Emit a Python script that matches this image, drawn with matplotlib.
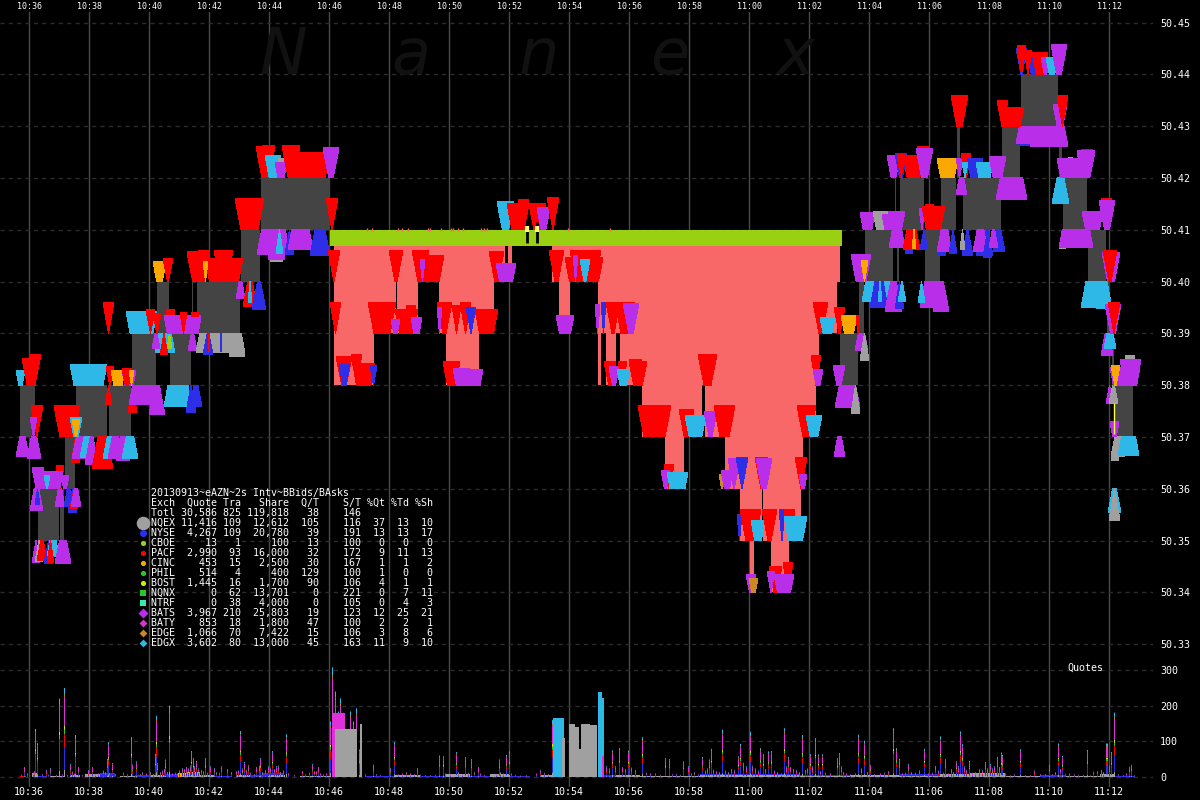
import numpy as np
import matplotlib
matplotlib.use("Agg")
import matplotlib.pyplot as plt

# x = number of 2s intervals since chart start (10:35:02), y = price
EXCH_COLOR = {
    "P": "#ff0000", "B": "#b92ee8", "X": "#2eb8e8", "N": "#2e2ee8", "C": "#f8a800",
    "Q": "#a0a0a0", "Y": "#99d011", "E": "#cc8822", "G": "#22cc22", "M": "#e030d8",
    "T": "#33eeaa", "L": "#ccee00",
}

time_ticks = list(range(29, 1110, 60))
time_labels = ["10:36", "10:38", "10:40", "10:42", "10:44", "10:46", "10:48", "10:50", "10:52", "10:54",
               "10:56", "10:58", "11:00", "11:02", "11:04", "11:06", "11:08", "11:10", "11:12"]
price_ticks = [50.33, 50.34, 50.35, 50.36, 50.37, 50.38, 50.39, 50.40, 50.41, 50.42, 50.43, 50.44, 50.45]
quote_ticks = [0, 100, 200, 300]

# NBBO spread (one cent wide), low side
band_x0 = [20, 38, 60, 65, 76, 109, 132, 157, 170, 192, 197, 241, 261, 840, 859, 865, 895, 897, 900, 925, 941,
           957, 963, 1002, 1021, 1059, 1063, 1088, 1107, 1112, 1115]
band_x1 = [35, 59, 64, 75, 107, 131, 156, 169, 191, 193, 240, 260, 330, 858, 864, 893, 896, 899, 924, 940, 956,
           960, 1001, 1020, 1058, 1062, 1087, 1106, 1110, 1114, 1133]
band_lo = [50.37, 50.35, 50.35, 50.36, 50.37, 50.37, 50.38, 50.39, 50.38, 50.39, 50.39, 50.40, 50.41, 50.38,
           50.39, 50.40, 50.41, 50.40, 50.41, 50.40, 50.41, 50.42, 50.41, 50.42, 50.43, 50.42, 50.41, 50.40,
           50.39, 50.38, 50.37]

# crossed / locked zone below the green bid line
pink_x0 = [334, 374, 396, 397, 418, 439, 446, 479, 494, 508, 552, 559, 570, 598, 601, 606, 616, 620, 642, 665, 684,
           702, 705, 722, 725, 740, 750, 754, 762, 763, 771, 789, 801, 803, 816, 819, 837]
pink_x1 = [374, 396, 397, 418, 439, 446, 479, 494, 505, 512, 559, 570, 598, 601, 606, 616, 620, 642, 665, 684, 702,
           705, 722, 725, 740, 750, 754, 762, 763, 771, 789, 801, 803, 816, 819, 837, 840]
pink_lo = [50.38, 50.39, 50.40, 50.39, 50.40, 50.39, 50.38, 50.39, 50.40, 50.40, 50.40, 50.39, 50.40, 50.38, 50.39,
           50.38, 50.39, 50.38, 50.37, 50.36, 50.37, 50.38, 50.37, 50.37, 50.36, 50.35, 50.34, 50.35, 50.36, 50.35,
           50.34, 50.35, 50.36, 50.37, 50.38, 50.39, 50.40]
bid_line = (330, 842, 50.4069, 50.41)
bid_line_ticks = [367, 372, 398, 402, 408, 428, 430, 441, 451, 453, 458, 463, 481, 484, 487, 568, 610]

# clusters of ask quotes: (x0, x1, height in cents, exchange)
ask_5044 = [(1016, 1027, .50, "N"), (1017, 1026, .55, "P"), (1027, 1040, .43, "N"), (1024, 1032, .45, "P"),
            (1032, 1048, .43, "P"), (1041, 1050, .33, "B"), (1046, 1058, .33, "X"), (1051, 1067, .57, "B")]
ask_5043 = [(951, 968, .59, "P"), (997, 1008, .50, "P"), (1000, 1024, .36, "P"), (1053, 1067, .42, "B"),
            (1057, 1068, .59, "P")]
ask_5042 = [(256, 275, .60, "P"), (262, 275, .62, "P"), (265, 281, .43, "X"), (278, 284, .38, "Q"),
            (275, 287, .30, "B"), (282, 300, .62, "P"), (290, 330, .50, "P"), (323, 339, .58, "B"),
            (887, 900, .43, "B"), (895, 907, .47, "N"), (897, 905, .45, "P"), (903, 924, .43, "P"),
            (917, 930, .60, "P"), (916, 933, .57, "B"), (937, 958, .38, "C"), (956, 963, .38, "B"),
            (961, 971, .47, "P"), (967, 983, .38, "N"), (962, 968, .30, "X"), (976, 993, .30, "X"),
            (989, 1006, .42, "B"), (1068, 1073, .40, "Q"), (1057, 1087, .38, "B"), (1081, 1093, .55, "P"),
            (1077, 1095, .52, "B")]
ask_5041 = [(235, 264, .60, "P"), (326, 338, .60, "P"),
            (497, 514, .54, "X"), (507, 529, .50, "P"), (518, 529, .58, "P"), (529, 546, .50, "P"),
            (537, 550, .42, "B"), (547, 559, .62, "P"),
            (860, 875, .33, "B"), (873, 889, .36, "Q"), (882, 893, .30, "B"), (888, 905, .36, "B"),
            (919, 925, .40, "B"), (922, 945, .45, "P"), (925, 934, .48, "P"), (1082, 1103, .36, "B"),
            (1101, 1112, .60, "P"), (1099, 1115, .56, "B")]
ask_5040 = [(153, 166, .38, "C"), (163, 173, .45, "P"), (187, 210, .57, "P"), (198, 210, .60, "P"),
            (205, 243, .45, "P"), (214, 233, .60, "P"), (203, 208, .38, "C"), (328, 340, .60, "P"),
            (389, 403, .60, "P"), (412, 429, .60, "P"), (420, 444, .50, "P"), (420, 425, .42, "B"),
            (489, 504, .58, "P"), (496, 516, .35, "B"), (549, 564, .60, "P"), (565, 603, .46, "P"),
            (570, 601, .60, "P"), (573, 578, .50, "B"), (580, 590, .42, "X"),
            (851, 871, .52, "B"), (861, 868, .40, "C"), (1102, 1120, .56, "B"), (1103, 1117, .60, "P")]
ask_5039 = [(103, 114, .60, "P"), (126, 157, .42, "X"), (146, 155, .45, "P"), (153, 161, .38, "P"),
            (166, 175, .45, "P"), (164, 201, .34, "B"), (180, 187, .40, "P"), (191, 199, .40, "P"),
            (190, 201, .30, "B"), (330, 341, .60, "P"), (368, 396, .60, "P"), (395, 418, .46, "P"),
            (406, 416, .54, "P"), (391, 400, .27, "B"), (411, 422, .30, "B"), (437, 452, .60, "P"),
            (437, 442, .50, "B"), (452, 461, .54, "P"), (460, 471, .60, "P"), (466, 476, .50, "N"),
            (475, 498, .46, "P"), (556, 574, .35, "B"), (595, 600, .55, "B"), (601, 606, .60, "N"),
            (606, 620, .60, "P"), (615, 635, .60, "P"), (623, 639, .58, "B"), (813, 828, .60, "P"),
            (820, 835, .31, "X"), (834, 845, .50, "P"), (841, 857, .35, "C"), (856, 860, .35, "P"),
            (1105, 1121, .56, "B"), (1108, 1120, .60, "P")]
ask_5038 = [(16, 25, .29, "X"), (22, 39, .52, "P"), (29, 41, .60, "P"), (70, 107, .40, "X"), (106, 114, .36, "P"),
            (111, 125, .29, "C"), (122, 136, .29, "B"), (122, 132, .33, "P"), (129, 134, .29, "C"),
            (336, 352, .56, "P"), (339, 350, .40, "N"), (351, 362, .60, "P"), (353, 375, .41, "P"),
            (370, 377, .37, "N"), (443, 460, .45, "P"), (453, 470, .33, "B"), (463, 483, .30, "B"),
            (604, 616, .46, "P"), (609, 619, .35, "B"), (618, 627, .46, "P"), (617, 630, .31, "X"),
            (629, 647, .46, "P"), (629, 642, .50, "P"), (698, 717, .60, "P"), (811, 821, .58, "P"),
            (813, 823, .31, "B"), (833, 845, .38, "B"), (1110, 1140, .34, "B"), (1111, 1120, .38, "C"),
            (1125, 1135, .58, "Q"), (1120, 1141, .50, "B")]
ask_5037 = [(31, 43, .60, "P"), (30, 37, .38, "B"), (54, 80, .60, "P"), (70, 82, .38, "X"), (72, 80, .34, "C"),
            (638, 671, .60, "P"), (679, 694, .53, "P"), (685, 706, .42, "X"), (704, 717, .50, "B"),
            (714, 735, .60, "P"), (797, 816, .60, "P"), (806, 822, .42, "X"), (1110, 1119, .29, "B")]
ask_5036 = [(56, 64, .45, "P"), (32, 44, .41, "B"), (36, 63, .33, "B"), (44, 50, .26, "X"), (61, 69, .26, "B"),
            (664, 674, .46, "P"), (661, 670, .35, "B"), (667, 688, .31, "X"), (719, 725, .27, "E"),
            (721, 733, .35, "B"), (728, 740, .58, "B"), (736, 748, .60, "N"), (755, 768, .60, "P"),
            (756, 772, .58, "B"), (795, 807, .60, "P"), (799, 807, .27, "B")]
ask_5035 = [(737, 742, .50, "N"), (740, 761, .60, "P"), (751, 765, .38, "X"), (762, 777, .60, "P"),
            (779, 785, .60, "N"), (784, 795, .60, "P"), (784, 807, .46, "X")]
ask_5034 = [(746, 756, .35, "B"), (749, 758, .27, "E"), (769, 782, .50, "P"), (783, 793, .58, "P"),
            (767, 775, .40, "B"), (774, 794, .35, "B")]
ask_levels = [(50.44, ask_5044), (50.43, ask_5043), (50.42, ask_5042), (50.41, ask_5041), (50.40, ask_5040),
              (50.39, ask_5039), (50.38, ask_5038), (50.37, ask_5037), (50.36, ask_5036), (50.35, ask_5035),
              (50.34, ask_5034)]

# clusters of bid quotes, same layout, hanging below the level
bid_5043 = [(1017, 1068, .38, "N"), (1016, 1064, .34, "B"), (1030, 1068, .40, "B")]
bid_5042 = [(956, 967, .33, "B"), (996, 1027, .42, "B"), (1052, 1069, .50, "X")]
bid_5041 = [(270, 283, .61, "Q"), (268, 285, .58, "B"), (257, 290, .47, "B"), (276, 283, .45, "X"),
            (285, 294, .47, "N"), (288, 313, .38, "B"), (310, 330, .50, "N"), (889, 905, .34, "B"),
            (905, 913, .45, "N"), (903, 920, .38, "P"), (912, 916, .36, "C"), (920, 928, .38, "N"),
            (937, 946, .50, "N"), (937, 952, .42, "B"), (949, 957, .45, "N"), (962, 973, .50, "N"),
            (960, 965, .38, "Q"), (976, 993, .50, "N"), (973, 988, .42, "B"), (983, 992, .54, "N"),
            (993, 1005, .42, "N"), (989, 998, .34, "B"), (1059, 1066, .36, "Q"), (1059, 1093, .34, "B")]
bid_5040 = [(236, 245, .32, "B"), (243, 257, .48, "P"), (252, 266, .55, "N"), (248, 252, .40, "X"),
            (862, 893, .38, "X"), (870, 888, .50, "N"), (878, 882, .38, "X"), (885, 902, .57, "B"),
            (895, 904, .53, "N"), (898, 906, .38, "X"), (920, 943, .50, "B"), (933, 949, .57, "B"),
            (918, 925, .40, "X"), (1096, 1112, .53, "X"), (1081, 1112, .50, "X")]
bid_5039 = [(155, 175, .38, "X"), (152, 160, .30, "B"), (160, 168, .41, "P"), (167, 172, .30, "Y"),
            (188, 197, .33, "B"), (196, 245, .38, "Q"), (229, 245, .45, "Q"), (203, 213, .41, "N"),
            (208, 210, .36, "P"), (220, 222, .36, "N"), (855, 868, .33, "B"), (860, 869, .52, "Q"),
            (1101, 1113, .42, "B"), (1104, 1116, .30, "X")]
bid_5038 = [(105, 112, .38, "P"), (128, 137, .53, "P"), (129, 162, .38, "B"), (149, 165, .57, "B"),
            (164, 192, .41, "X"), (186, 196, .53, "N"), (190, 202, .41, "N"), (835, 860, .44, "B"),
            (851, 860, .55, "Q"), (1106, 1113, .36, "B"), (1109, 1118, .36, "Q")]
bid_5037 = [(16, 29, .38, "B"), (27, 41, .42, "B"), (71, 80, .50, "P"), (72, 90, .42, "B"), (80, 97, .40, "X"),
            (85, 98, .53, "B"), (92, 113, .61, "P"), (103, 117, .42, "X"), (108, 123, .42, "B"),
            (116, 130, .46, "B"), (122, 138, .42, "X"), (834, 845, .37, "B"), (1111, 1119, .46, "Q"),
            (1111, 1125, .38, "Q"), (1118, 1139, .35, "X")]
bid_5036 = [(30, 43, .42, "B"), (35, 40, .30, "N"), (55, 65, .34, "B"), (64, 73, .34, "N"), (68, 77, .45, "N"),
            (70, 78, .38, "P"), (71, 81, .34, "B"), (1108, 1121, .46, "X"), (1109, 1120, .61, "Q")]
bid_5035 = [(32, 40, .42, "B"), (35, 43, .40, "Q"), (37, 47, .38, "P"), (44, 53, .45, "N"), (47, 59, .30, "X"),
            (47, 54, .42, "P"), (55, 71, .45, "B")]
bid_levels = [(50.43, bid_5043), (50.42, bid_5042), (50.41, bid_5041), (50.40, bid_5040), (50.39, bid_5039),
              (50.38, bid_5038), (50.37, bid_5037), (50.36, bid_5036), (50.35, bid_5035)]

# table on the chart
table_title = "20130913~eAZN~2s Intv~BBids/BAsks"
table_head = ["Exch", "Quote", "Tra", "Share", "Q/T", "S/T", "%Qt", "%Td", "%Sh"]
table_total = ["Totl", "30,586", "825", "119,818", "38", "146", "", "", ""]
exch_names = ["NQEX", "NYSE", "CBOE", "PACF", "CINC", "PHIL", "BOST", "NQNX", "NTRF", "BATS", "BATY", "EDGE", "EDGX"]
exch_quote = ["11,416", "4,267", "13", "2,990", "453", "514", "1,445", "0", "0", "3,967", "853", "1,066", "3,602"]
exch_trade = [109, 109, 1, 93, 15, 4, 16, 62, 38, 210, 18, 70, 80]
exch_share = ["12,612", "20,780", "100", "16,000", "2,500", "400", "1,700", "13,701", "4,000", "25,803", "1,800",
              "7,422", "13,000"]
exch_qt = [105, 39, 13, 32, 30, 129, 90, 0, 0, 19, 47, 15, 45]
exch_st = [116, 191, 100, 172, 167, 100, 106, 221, 105, 123, 100, 106, 163]
exch_pq = [37, 13, 0, 9, 1, 1, 4, 0, 0, 12, 2, 3, 11]
exch_pt = [13, 13, 0, 11, 1, 0, 1, 7, 4, 25, 2, 8, 9]
exch_ps = [10, 17, 0, 13, 2, 0, 1, 11, 3, 21, 1, 6, 10]
exch_key = ["Q", "N", "Y", "P", "C", "G", "L", "G", "T", "B", "M", "E", "X"]
exch_marker = ["o", "o", "o", "o", "o", "o", "o", "s", "s", "D", "D", "D", "D"]
exch_msize = [95, 26, 14, 14, 14, 14, 14, 14, 14, 26, 16, 16, 16]

# quotes per interval: tall single spikes
spike_x = [24, 35, 37, 46, 50, 59, 64, 70, 75, 78, 88, 92, 107, 108, 112, 131, 132, 136, 155, 156, 157, 165, 169,
           179, 182, 190, 191, 193, 196, 205, 210, 214, 221, 227, 240, 244, 248, 256, 259, 260, 272, 276, 278, 286,
           302, 312, 316, 318, 330, 332, 335, 338, 340, 343, 350, 353, 356, 359, 373, 390, 394, 417, 439, 443,
           456, 465, 471, 478, 499, 506, 509, 540, 552, 612, 619, 628, 642, 665, 669, 683, 688, 702, 709, 711,
           722, 738, 740, 750, 760, 763, 768, 771, 784, 788, 802, 810, 815, 818, 822, 837, 839, 841, 858, 864,
           870, 893, 896, 899, 908, 924, 935, 940, 945, 956, 960, 962, 969, 979, 985, 990, 997, 1001, 1002, 1020,
           1034, 1049, 1058, 1062, 1069, 1087, 1093, 1101, 1106, 1107, 1111, 1114, 1129, 1131]
spike_q = [28, 135, 95, 20, 25, 220, 250, 37, 118, 28, 19, 28, 51, 98, 39, 112, 35, 44, 65, 172, 39, 49, 200,
           18, 25, 32, 73, 53, 45, 53, 30, 25, 30, 22, 129, 42, 33, 28, 32, 53, 73, 30, 32, 120,
           17, 36, 16, 28, 156, 308, 240, 184, 221, 180, 184, 156, 193, 77, 35, 25, 98, 25, 60, 58,
           70, 56, 50, 28, 49, 62, 72, 20, 160, 75, 81, 74, 112, 53, 50, 44, 30, 56, 49, 79,
           133, 58, 93, 127, 81, 64, 72, 73, 137, 56, 118, 64, 109, 63, 64, 53, 67, 30, 119, 102,
           34, 137, 81, 51, 37, 79, 31, 114, 50, 44, 128, 92, 45, 22, 42, 36, 56, 69, 62, 78,
           18, 34, 94, 59, 10, 76, 15, 20, 94, 94, 70, 181, 29, 34]
# short spikes between them
small_x = [21, 27, 33, 34, 42, 48, 56, 62, 67, 72, 74, 82, 95, 98, 103, 105, 109, 115, 123, 127, 140, 142, 146, 150,
           153, 160, 162, 164, 167, 172, 175, 177, 184, 186, 188, 194, 198, 201, 203, 207, 216, 219, 231, 236, 238,
           242, 246, 250, 254, 262, 265, 268, 270, 274, 280, 283, 288, 294, 305, 309, 314, 320, 323, 326,
           365, 376, 380, 398, 402, 406, 410, 414, 420, 425, 430, 435, 445, 450, 458, 462, 468, 474, 480, 484, 496,
           500, 503, 511, 515, 520, 526, 536, 544, 548, 606, 609, 615, 622, 625, 631, 635,
           646, 650, 655, 660, 672, 676, 680, 691, 694, 698, 705, 707, 713, 716, 719, 725, 728, 731, 734, 743, 746,
           752, 755, 758, 765, 774, 777, 781, 786, 790, 793, 796, 799, 805, 807, 812, 820, 825, 830, 843, 846, 850,
           855, 861, 867, 874, 880, 884, 888, 902, 905, 911, 915, 919, 928, 932, 938, 943, 948, 951, 953, 958, 964,
           966, 972, 975, 982, 987, 992, 994, 999, 1005, 1010, 1014, 1025, 1030, 1040, 1045, 1052, 1055, 1060, 1065,
           1074, 1078, 1083, 1090, 1097, 1103, 1109, 1118, 1123, 1126, 1134]
small_q = [6, 10, 12, 16, 8, 6, 6, 8, 6, 15, 10, 6, 8, 10, 18, 14, 12, 8, 12, 8, 8, 14, 10, 14,
           8, 14, 18, 22, 14, 10, 12, 10, 22, 28, 24, 30, 24, 20, 16, 12, 14, 12, 14, 16, 18,
           24, 20, 12, 8, 14, 20, 30, 26, 22, 14, 18, 10, 6, 8, 12, 16, 10, 8, 10,
           8, 8, 6, 8, 10, 14, 10, 8, 6, 6, 5, 6, 10, 8, 14, 8, 12, 14, 10, 6, 8,
           14, 10, 10, 6, 4, 5, 10, 12, 8, 30, 24, 30, 28, 22, 26, 20,
           12, 10, 10, 6, 8, 8, 6, 10, 14, 8, 18, 24, 20, 16, 14, 18, 14, 22, 20, 40, 30,
           32, 24, 18, 22, 18, 14, 10, 30, 28, 22, 20, 14, 20, 24, 30, 16, 12, 10, 14, 10, 8,
           10, 24, 14, 8, 10, 12, 16, 10, 12, 14, 12, 18, 10, 12, 18, 12, 10, 22, 14, 30, 30,
           20, 10, 14, 20, 24, 24, 30, 28, 10, 5, 8, 5, 6, 8, 8, 8, 14, 22, 8,
           8, 6, 6, 5, 16, 14, 30, 8, 5, 10, 5]
stack_exch = ["Q", "N", "P", "G", "L", "M", "E", "X"]
stack_share = [.08, .25, .15, .05, .05, .32, .03, .07]

# wide blocks of heavy quoting
mass_x0 = [332, 335, 360, 553, 562, 569, 575, 579, 581, 590, 598, 598, 602]
mass_x1 = [345, 357, 362, 564, 565, 575, 579, 581, 590, 597, 604, 602, 604]
mass_q = [180, 135, 150, 165, 110, 150, 140, 78, 150, 145, 221, 238, 60]
mass_exch = ["M", "Q", "Q", "X", "Q", "Q", "Q", "Q", "Q", "Q", "X", "X", "M"]

# low background activity
low_x0 = [20, 32, 38, 50, 70, 85, 100, 120, 135, 150, 165, 178, 186, 200, 215, 236, 250, 262, 268, 300, 365, 395, 420,
          445, 470, 490, 510, 540, 604, 615, 640, 700, 700, 760, 760, 800, 800, 850, 900, 900, 940, 970, 1005, 1040,
          1065, 1100, 1115]
low_x1 = [26, 38, 46, 64, 80, 100, 115, 135, 150, 165, 178, 190, 200, 215, 232, 250, 262, 283, 285, 330, 395, 420, 445,
          470, 490, 510, 530, 552, 640, 640, 700, 760, 760, 800, 800, 850, 850, 900, 940, 940, 970, 1005, 1040, 1065,
          1100, 1115, 1135]
low_q = [4, 10, 4, 4, 6, 8, 10, 4, 7, 6, 8, 10, 14, 7, 4, 7, 5, 10, 6, 3, 4, 6, 3, 8, 4, 9, 3, 6, 7, 5, 3, 9, 5, 8, 5,
         6, 4, 5, 8, 4, 9, 12, 3, 6, 3, 8, 2]
low_exch = ["P", "Q", "N", "Q", "Q", "Q", "N", "Q", "N", "Q", "N", "C", "Q", "Q", "N", "Q", "N", "N", "Q", "Q", "N", "Q",
            "N", "Q", "N", "Q", "N", "Q", "N", "Q", "Q", "N", "Q", "N", "Q", "N", "Q", "Q", "N", "Q", "Q", "Q", "Q", "N",
            "Q", "Q", "N"]

GRID_V = "#4a4a4a"
GRID_H = "#2c2c2c"
BAND = "#444444"
PINK = "#f86868"
FONT = "DejaVu Sans Mono"

W, H = 1200, 800


def y_px(top, bottom):
    return [0, 1 - bottom / H, 1153 / W, (bottom - top) / H]


def price_at(y):
    return 50.45 - (y - 22.5) / 5180


def quote_shape(ax, x0, x1, level, cents, side, color):
    # many triangles with the tip on the level merge into a trapezoid
    inset = min((x1 - x0) / 2, 10 * cents)
    far = level + side * cents / 100
    ax.fill([x0, x1, x1 - inset, x0 + inset], [far, far, level, level], color=color, lw=0,
            antialiased=False, zorder=5)


def table_row(c):
    return f"{c[0]:<4}{c[1]:>7}{c[2]:>4}{c[3]:>8}{c[4]:>5}{c[5]:>7}{c[6]:>4}{c[7]:>4}{c[8]:>4}"


fig = plt.figure(figsize=(W / 100, H / 100), dpi=100, facecolor="black")
ax = fig.add_axes(y_px(12, 660), facecolor="black")
vol = fig.add_axes(y_px(660, 787), facecolor="black")

for a in (ax, vol):
    a.set_xlim(0, 1153)
    a.set_xticks(time_ticks)
    a.set_xticklabels(time_labels, family=FONT, color="white")
    a.grid(True, axis="x", color=GRID_V, lw=1, zorder=0)
    a.grid(True, axis="y", color=GRID_H, lw=1, ls=(0, (3, 3)), zorder=0)
    a.set_axisbelow(True)
    a.yaxis.tick_right()
    for s in a.spines.values():
        s.set_visible(False)

# ---------------- price panel ----------------
ax.set_ylim(price_at(660), price_at(12))
ax.set_yticks(price_ticks)
ax.set_yticklabels([f"{p:.2f}" for p in price_ticks], family=FONT, color="white", fontsize=7.2)
ax.xaxis.tick_top()
ax.tick_params(axis="x", length=0, pad=1, labelsize=6)
ax.tick_params(axis="y", length=0, pad=5)

for ch, xc in zip("Nanex", [259, 391, 519, 650, 777]):
    ax.text(xc, 50.44, ch, family="DejaVu Sans", style="italic", fontsize=46, color="#111111",
            ha="left", va="baseline", zorder=1)

for x0, x1, lo in zip(pink_x0, pink_x1, pink_lo):
    ax.fill_between([x0, x1], lo, bid_line[2], color=PINK, lw=0, antialiased=False, zorder=2)
ax.fill_between(bid_line[:2], bid_line[2], bid_line[3], color=EXCH_COLOR["Y"], lw=0, antialiased=False, zorder=3)
ax.vlines(bid_line_ticks, 50.4097, 50.4103, color=PINK, lw=1, zorder=3)
for x0, x1, lo in zip(band_x0, band_x1, band_lo):
    ax.fill_between([x0, x1], lo, lo + .01, color=BAND, lw=0, antialiased=False, zorder=4)

for level, rows in bid_levels:
    for x0, x1, cents, key in rows:
        quote_shape(ax, x0, x1, level, cents, -1, EXCH_COLOR[key])
for level, rows in ask_levels:
    for x0, x1, cents, key in rows:
        quote_shape(ax, x0, x1, level, cents, 1, EXCH_COLOR[key])

# two crossed trades on the green line
ax.vlines([527, 537], 50.4075, 50.4115, color="black", lw=2, zorder=6)
ax.vlines([527, 537], 50.4095, 50.4108, color="#ffff80", lw=3, zorder=6)
ax.vlines([1114], 50.3705, 50.3765, color="#ffff40", lw=1, zorder=6)

# ---------------- table ----------------
rows = [table_head, table_total]
for i in range(len(exch_names)):
    rows.append([exch_names[i], exch_quote[i], exch_trade[i], exch_share[i], exch_qt[i], exch_st[i],
                 exch_pq[i], exch_pt[i], exch_ps[i]])
ax.text(151, price_at(493), table_title, family=FONT, fontsize=7.2, color="white", va="center", zorder=8)
for i, row in enumerate(rows):
    ax.text(151, price_at(503 + 10 * i), table_row(row), family=FONT, fontsize=7.2, color="white",
            va="center", zorder=8)
for i, key in enumerate(exch_key):
    ax.scatter([143], [price_at(523 + 10 * i)], s=exch_msize[i], color=EXCH_COLOR[key], marker=exch_marker[i],
               linewidths=0, zorder=8)

# ---------------- quote count panel ----------------
vol.set_ylim(-28, 328.6)
vol.set_yticks(quote_ticks)
vol.set_yticklabels([str(q) for q in quote_ticks], family=FONT, color="white", fontsize=7.2)
vol.xaxis.tick_bottom()
vol.tick_params(axis="x", length=0, pad=0, labelsize=7.2)
vol.tick_params(axis="y", length=0, pad=5)
vol.text(1067, 320, "Quotes", family=FONT, fontsize=7.2, color="white", va="top", clip_on=False)

for x0, x1, q, key in zip(low_x0, low_x1, low_q, low_exch):
    vol.bar(x0, q, width=x1 - x0, align="edge", color=EXCH_COLOR[key], lw=0, antialiased=False, zorder=3)

for xs, qs in ((small_x, small_q), (spike_x, spike_q)):
    spikes = np.array(qs, dtype=float)
    bottom = np.zeros(len(spikes))
    for key, share in zip(stack_exch, stack_share):
        vol.bar(xs, spikes * share, bottom=bottom, width=1, align="edge", color=EXCH_COLOR[key], lw=0,
                antialiased=True, snap=False, zorder=4)
        bottom += spikes * share

for x0, x1, q, key in zip(mass_x0, mass_x1, mass_q, mass_exch):
    vol.bar(x0, q, width=x1 - x0, align="edge", color=EXCH_COLOR[key], lw=0, antialiased=False, zorder=5)

fig.savefig("out.png", dpi=100, facecolor="black")
